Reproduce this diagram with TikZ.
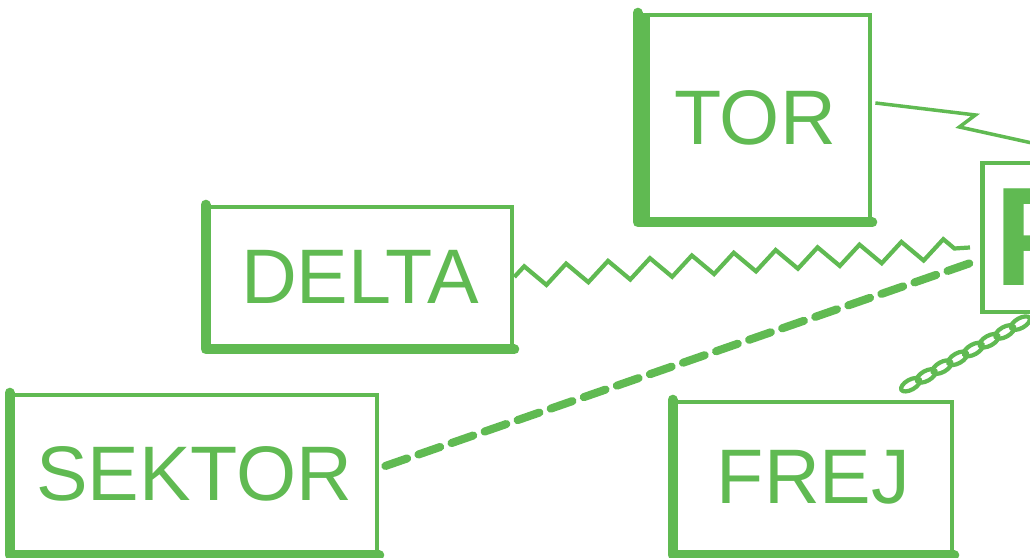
\documentclass[tikz,border=0pt]{standalone}
\usepackage{fontspec}
\setmainfont{Liberation Sans}
\usetikzlibrary{calc,decorations.pathmorphing,decorations.markings}
\definecolor{ink}{RGB}{96,186,82}

\begin{document}
\begin{tikzpicture}[
  box/.style={draw=ink, line width=1.35pt, inner sep=0pt, text=ink, font=\fontsize{22}{26}\selectfont},
  heavy/.style={draw=ink, line width=2.8pt, line cap=round, line join=round},
  bolt/.style={draw=ink, line width=1pt},
  zig/.style={draw=ink, line width=1.2pt, decorate, decoration={zigzag, segment length=4.2mm, amplitude=1mm}},
  dashline/.style={draw=ink, line width=2.3pt, dash pattern=on 2.3mm off 1.2mm, line cap=round},
  chain/.style={decorate, decoration={markings, mark=between positions 0.04 and 1 step 1.8mm with {\draw[ink, line width=1.2pt] (0,0) ellipse (1.05mm and 0.5mm);}}}]
  \useasboundingbox (0,0) rectangle (10.3,5.58);
  \clip (0,0) rectangle (10.3,5.58);
  \node[box, minimum width=23mm, minimum height=20.5mm] (tor)    at (7.55,4.405) {TOR};
  \node[box, minimum width=30.4mm, minimum height=14mm] (delta)  at (3.60,2.81)  {DELTA};
  \node[box, minimum width=36.5mm, minimum height=15.8mm] (sektor) at (1.945,0.84) {SEKTOR};
  \node[box, minimum width=27.7mm, minimum height=15.1mm] (frej)   at (8.135,0.805) {FREJ};
  \node[box, anchor=west, minimum height=14.9mm, inner xsep=1.2mm, font=\fontsize{40}{44}\selectfont\bfseries] (p) at (9.8,3.205) {P};
  \foreach \n in {tor,delta,sektor,frej}
    \draw[heavy] (\n.north west) -- (\n.south west) -- (\n.south east);
  \draw[ink, line width=4pt] ($(tor.north west)+(0.05,0)$) -- ($(tor.south west)+(0.05,0)$);
  \coordinate (torend) at (11.0,4.0);
  \coordinate (pin) at (10.35,2.43);
  \draw[bolt] ($(tor.east)+(0.03,0.145)$) -- ++(1.0,-0.12) -- ++(-0.16,-0.12) -- (torend);
  \draw[zig] (delta.east) -- ($(p.west)+(-0.1,-0.1)$);
  \draw[dashline] ($(sektor.east)+(0.06,0.08)$) -- ($(p.west)+(-0.08,-0.25)$);
  \path[chain] ($(frej.north east)+(-0.49,0.12)$) -- (pin);
\end{tikzpicture}
\end{document}
